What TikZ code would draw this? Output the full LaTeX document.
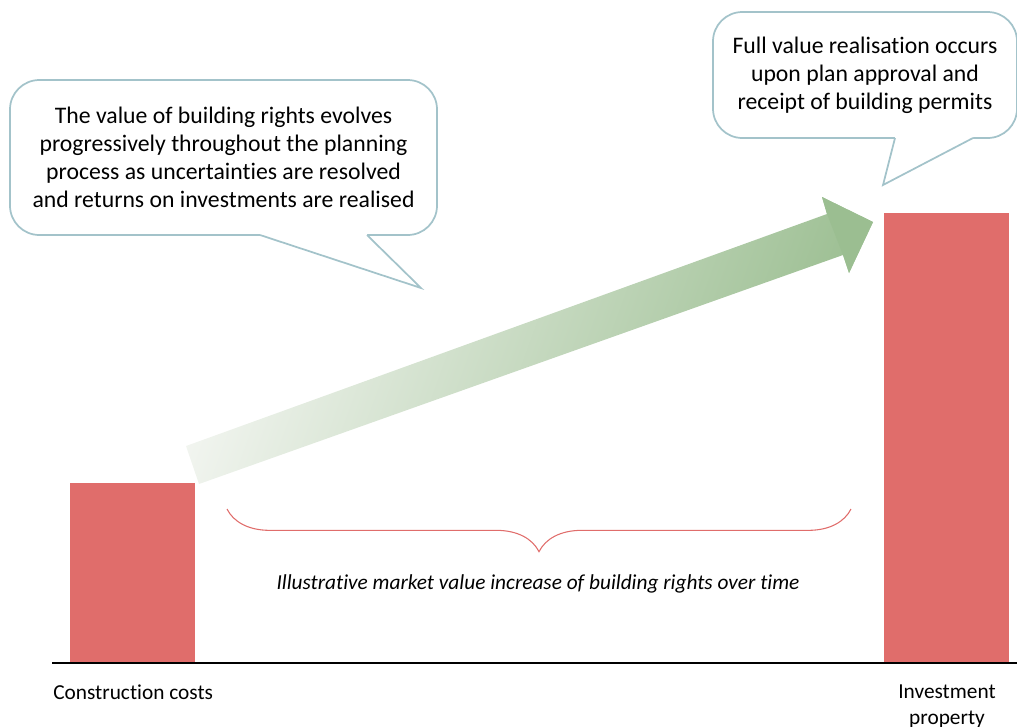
\documentclass[tikz,border=0pt]{standalone}
\usepackage{fontspec}
\setmainfont{Carlito}[Ligatures={NoCommon}]
\usetikzlibrary{decorations.pathreplacing}
\definecolor{barred}{HTML}{E06D6B}
\definecolor{callline}{HTML}{A3C3CA}
\definecolor{arrgreen}{HTML}{9BBE91}
\definecolor{arrlight}{HTML}{F2F5F0}
\definecolor{arrmid}{HTML}{CADCC4}
\tikzset{
  callout/.style={draw=callline, line width=1.3pt, fill=white, rounded corners=22pt,
    align=center, inner sep=0pt, font=\fontsize{17.8}{21}\selectfont},
  bar/.style={fill=barred, draw=none, inner sep=0pt},
  lbl/.style={font=\fontsize{16}{19}\selectfont, inner sep=0pt, align=center},
}
\begin{document}
\begin{tikzpicture}[x=0.75pt, y=-0.75pt]
\useasboundingbox (0,0) rectangle (1017,726);
% bars
\node[bar, anchor=north west, minimum width=125*0.75pt, minimum height=180*0.75pt] (cc) at (70,483) {};
\node[bar, anchor=north west, minimum width=125*0.75pt, minimum height=450*0.75pt] (ip) at (884,213) {};
% baseline
\coordinate (b0) at (52,663);
\coordinate (b1) at (1017,663);
\draw[line width=1.6pt] (b0) -- (b1);
% arrow
\coordinate (t1) at (186,446);
\coordinate (s1) at (827,214);
\coordinate (h1) at (822,197);
\coordinate (tip) at (873,222);
\coordinate (h2) at (849,273);
\coordinate (s2) at (843,255);
\coordinate (t2) at (199,484);
\shade[left color=arrlight, middle color=arrmid, right color=arrgreen, shading angle=70]
  (t1) -- (s1) -- (h1) -- (tip) -- (h2) -- (s2) -- (t2) -- cycle;
\fill[arrgreen] (s1) -- (h1) -- (tip) -- (h2) -- (s2) -- cycle;
% callout 1
\node[callout, minimum width=427*0.75pt, minimum height=155*0.75pt] (c1) at (223.5,157.5)
  {The value of building rights evolves\\progressively throughout the planning\\process as uncertainties are resolved\\and returns on investments are realised};
\coordinate (p1a) at (260,235);
\coordinate (p1t) at (421,288);
\coordinate (p1b) at (367,235);
\fill[white] ([yshift=1.5pt]p1a) -- (p1a) -- (p1t) -- (p1b) -- ([yshift=1.5pt]p1b) -- cycle;
\draw[callline, line width=1.3pt, line join=miter] (p1a) -- (p1t) -- (p1b);
% callout 2
\node[callout, minimum width=304*0.75pt, minimum height=126*0.75pt] (c2) at (865,75)
  {Full value realisation occurs\\upon plan approval and\\receipt of building permits};
\coordinate (p2a) at (895,138);
\coordinate (p2t) at (883,185);
\coordinate (p2b) at (973,138);
\fill[white] ([yshift=1.5pt]p2a) -- (p2a) -- (p2t) -- (p2b) -- ([yshift=1.5pt]p2b) -- cycle;
\draw[callline, line width=1.3pt, line join=miter] (p2a) -- (p2t) -- (p2b);
% brace
\coordinate (br0) at (227,509);
\coordinate (br1) at (851,509);
\draw[barred, line width=0.8pt, decorate, decoration={brace, mirror, amplitude=32pt}] (br0) -- (br1);
\node[lbl, font=\fontsize{16}{19}\selectfont\itshape] (inc) at (538,584)
  {Illustrative market value increase of building rights over time};
% labels
\node[lbl, anchor=west] (lcc) at (53,692) {Construction costs};
\node[lbl, anchor=north] (lip) at (947,685) {Investment\\property};
\end{tikzpicture}
\end{document}
